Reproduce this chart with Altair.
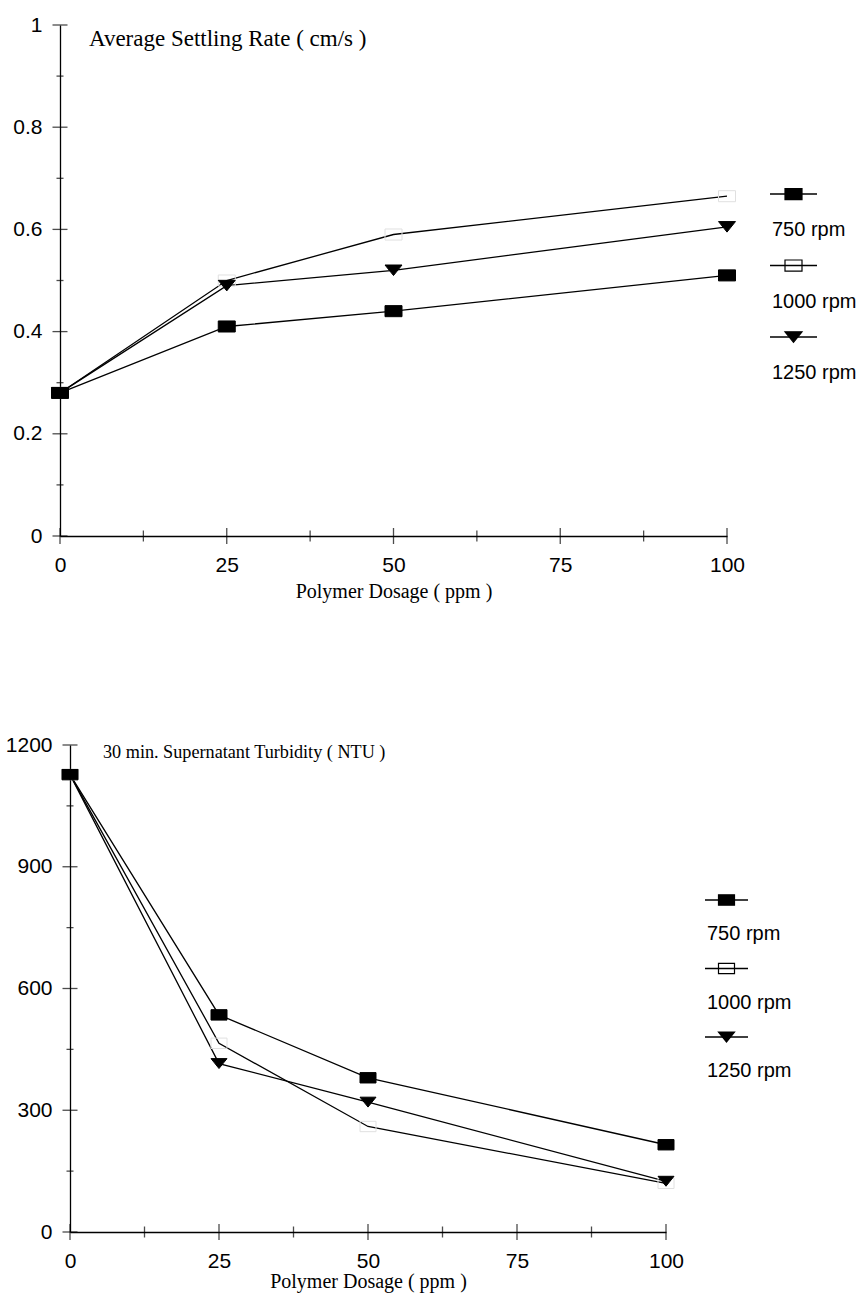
import altair as alt
import pandas as pd

# ---------------- data ----------------
dosage = [0, 25, 50, 100]
series = ["750 rpm", "1000 rpm", "1250 rpm"]

settle_750 = [0.28, 0.41, 0.44, 0.51]
settle_1000 = [0.28, 0.50, 0.59, 0.665]
settle_1250 = [0.28, 0.49, 0.52, 0.605]

turb_750 = [1127, 535, 380, 215]
turb_1000 = [1127, 465, 260, 120]
turb_1250 = [1127, 415, 320, 125]

x_major = [0, 25, 50, 75, 100]
x_minor = [12.5, 37.5, 62.5, 87.5]
settle_major = [0, 0.2, 0.4, 0.6, 0.8, 1.0]
settle_minor = [0.1, 0.3, 0.5, 0.7, 0.9]
turb_major = [0, 300, 600, 900, 1200]
turb_minor = [150, 450, 750, 1050]

# ---------------- styles ----------------
RECT = "M-1,-0.65H1V0.65H-1Z"
TRI = "M-1,-0.62H1L0,0.62Z"
SHAPES = [RECT, RECT, TRI]
SANS = "Liberation Sans"
SERIF = "Liberation Serif"
LW = 1.3


def long_df(vals):
    rows = []
    for s, v in zip(series, vals):
        for d, y in zip(dosage, v):
            rows.append({"dosage": d, "value": y, "series": s})
    return pd.DataFrame(rows)


def make_plot(vals, title, ymax, ymajor, yminor, fmt, width, height, xpad,
              title_size, title_dx, title_offset, xtitle_pad, msize):
    df = long_df(vals)
    xenc = alt.X(
        "dosage:Q",
        scale=alt.Scale(domain=[0, 100], nice=False, zero=False, range=[xpad, width]),
        axis=alt.Axis(
            values=x_major, ticks=False, grid=False, labelFlush=False,
            labelPadding=18, labelFont=SANS, labelFontSize=21, labelColor="black",
            title="Polymer Dosage ( ppm )", titleFont=SERIF, titleFontSize=20,
            titleFontWeight="normal", titleColor="black", titlePadding=xtitle_pad,
            domainColor="black", domainWidth=LW,
        ),
    )
    yenc = alt.Y(
        "value:Q",
        scale=alt.Scale(domain=[0, ymax], nice=False),
        axis=alt.Axis(
            values=ymajor, format=fmt, ticks=False, grid=False, labelFlush=False,
            labelPadding=18, labelFont=SANS, labelFontSize=21, labelColor="black",
            title=None, domainColor="black", domainWidth=LW, offset=-xpad,
        ),
    )
    lines = alt.Chart(df).mark_line(color="black", strokeWidth=LW).encode(
        x=xenc, y=yenc, detail="series:N"
    )
    pts = alt.Chart(df).mark_point(size=msize, opacity=1, strokeWidth=1).encode(
        x="dosage:Q",
        y="value:Q",
        shape=alt.Shape("series:N", scale=alt.Scale(domain=series, range=SHAPES), legend=None),
        fill=alt.Fill("series:N", scale=alt.Scale(domain=series, range=["black", "transparent", "black"]), legend=None),
        stroke=alt.Stroke("series:N", scale=alt.Scale(domain=series, range=["black", "#e0e0e0", "black"]), legend=None),
        order=alt.Order("series:N", sort="ascending"),
    )
    xt_maj = alt.Chart(pd.DataFrame({"dosage": x_major})).mark_tick(
        orient="vertical", size=16, thickness=LW, color="black"
    ).encode(x="dosage:Q", y=alt.datum(0))
    xt_min = alt.Chart(pd.DataFrame({"dosage": x_minor})).mark_tick(
        orient="vertical", size=11, thickness=LW, color="black"
    ).encode(x="dosage:Q", y=alt.datum(0))
    yt_maj = alt.Chart(pd.DataFrame({"value": ymajor})).mark_tick(
        orient="horizontal", size=15, thickness=LW, color="black"
    ).encode(y="value:Q", x=alt.datum(0))
    yt_min = alt.Chart(pd.DataFrame({"value": yminor})).mark_tick(
        orient="horizontal", size=7, thickness=LW, color="black"
    ).encode(y="value:Q", x=alt.datum(0))
    return alt.layer(lines, xt_maj, xt_min, yt_maj, yt_min, pts).properties(
        width=width, height=height,
        title=alt.TitleParams(
            title, anchor="start", frame="group", dx=title_dx, offset=title_offset,
            font=SERIF, fontSize=title_size, fontWeight="normal", color="black",
        ),
    )


def make_legend(height, rows_px, line_w, label_dy, msize):
    ldf = pd.DataFrame({"entry": series, "idx": [0, 1, 2]})
    yenc = alt.Y("idx:Q", scale=alt.Scale(domain=[0, 2], range=rows_px), axis=None)
    base = alt.Chart(ldf)
    rule = base.mark_rule(color="black", strokeWidth=LW).encode(
        x=alt.value(0), x2=alt.value(line_w), y=yenc
    )
    pt = base.mark_point(size=msize, opacity=1, strokeWidth=1.2).encode(
        x=alt.value(line_w / 2), y=yenc,
        shape=alt.Shape("entry:N", scale=alt.Scale(domain=series, range=SHAPES), legend=None),
        fill=alt.Fill("entry:N", scale=alt.Scale(domain=series, range=["black", "white", "black"]), legend=None),
        stroke=alt.value("black"),
    )
    txt = base.mark_text(align="left", baseline="middle", dy=label_dy, font=SANS,
                         fontSize=20, color="black").encode(
        x=alt.value(2), y=yenc, text="entry:N"
    )
    return alt.layer(rule, pt, txt).properties(width=88, height=height)


top_plot = make_plot(
    [settle_750, settle_1000, settle_1250], "Average Settling Rate ( cm/s )",
    1.0, settle_major, settle_minor, "~g", 667, 511, 0, 23, 29, -37, 6, 289,
)
bot_plot = make_plot(
    [turb_750, turb_1000, turb_1250], "30 min. Supernatant Turbidity ( NTU )",
    1200, turb_major, turb_minor, "d", 606, 487, 10, 18.2, 43, -28, 0, 256,
)
top_leg = make_legend(511, [169, 312], 47, 36, 289)
bot_leg = make_legend(487, [155, 292], 43, 34, 256)

top_row = alt.hconcat(top_plot, top_leg, spacing=24)
bot_row = alt.hconcat(bot_plot, bot_leg, spacing=20)

chart = (
    alt.vconcat(top_row, bot_row, spacing=133)
    .configure_view(stroke=None)
    .properties(padding={"left": 5, "top": 14, "right": 0, "bottom": 5}, background="white")
)

chart.save("out.html", embed_options={"renderer": "svg", "actions": False})
